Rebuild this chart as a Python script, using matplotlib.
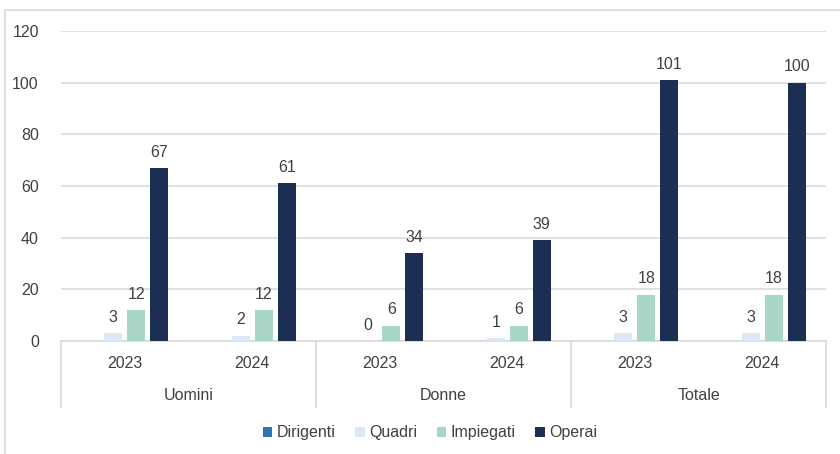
import matplotlib.pyplot as plt
import numpy as np
from matplotlib.patches import Rectangle

plt.rcParams['font.family'] = ['Liberation Sans', 'DejaVu Sans']

groups = ["Uomini", "Donne", "Totale"]
years = ["2023", "2024"]
series = ["Dirigenti", "Quadri", "Impiegati", "Operai"]
dirigenti = [0, 0, 0, 0, 0, 0]
quadri = [3, 2, 0, 1, 3, 3]
impiegati = [12, 12, 6, 6, 18, 18]
operai = [67, 61, 34, 39, 101, 100]
colors = ["#2e75b6", "#dce8f5", "#a9d6c8", "#1b2f52"]
show_labels = [False, True, True, True]

text_col = "#404040"
grid_col = "#d9d9d9"

W, H = 840, 454
fig = plt.figure(figsize=(W / 100, H / 100), dpi=100)

# outer chart frame (runs off the right and bottom edges)
fig.patches.append(Rectangle((5 / W, -0.1), 1.1, (H - 10) / H + 0.1,
                             transform=fig.transFigure, fill=False,
                             edgecolor=grid_col, linewidth=1.2))

ax = fig.add_axes([61 / W, (H - 341) / H, 765 / W, 310 / H])

n = len(groups) * len(years)
x = np.arange(n)
pitch = 0.18
width = 0.142
values = [dirigenti, quadri, impiegati, operai]
for i, (name, vals, col) in enumerate(zip(series, values, colors)):
    pos = x + (i - 1.5) * pitch
    bars = ax.bar(pos, vals, width, color=col, label=name, zorder=3)
    if show_labels[i]:
        for b, v in zip(bars, vals):
            ax.annotate(str(v), (b.get_x() + b.get_width() / 2, v),
                        xytext=(0, 6), textcoords="offset points",
                        ha="center", va="bottom", fontsize=11.5,
                        color=text_col)

ax.set_xlim(-0.5, n - 0.5)
ax.set_ylim(0, 120)
ax.set_yticks(range(0, 121, 20))
ax.yaxis.grid(True, color=grid_col, linewidth=1.1, zorder=0)
ax.tick_params(axis="y", length=0, pad=16, labelsize=11.5, labelcolor=text_col)
ax.set_xticks([])
for s in ["left", "right", "top"]:
    ax.spines[s].set_visible(False)
ax.spines["bottom"].set_color(grid_col)
ax.spines["bottom"].set_linewidth(1.2)

# two-level category axis
trans = ax.get_xaxis_transform()
for i in range(n):
    ax.text(x[i], -0.071, years[i % 2], transform=trans, ha="center",
            va="center", fontsize=11.5, color=text_col)
for g, name in enumerate(groups):
    ax.text(2 * g + 0.5, -0.177, name, transform=trans, ha="center",
            va="center", fontsize=11.5, color=text_col)
for g in range(len(groups) + 1):
    ax.plot([2 * g - 0.5, 2 * g - 0.5], [0, -0.213], transform=trans,
            color=grid_col, linewidth=1.2, clip_on=False)

fig.legend(loc="center", bbox_to_anchor=(430 / W, (H - 433) / H), ncol=4,
           frameon=False, fontsize=11.5, handlelength=0.6, handleheight=0.6,
           handletextpad=0.3, columnspacing=1.2, labelcolor=text_col)

fig.savefig("out.png", dpi=100)
